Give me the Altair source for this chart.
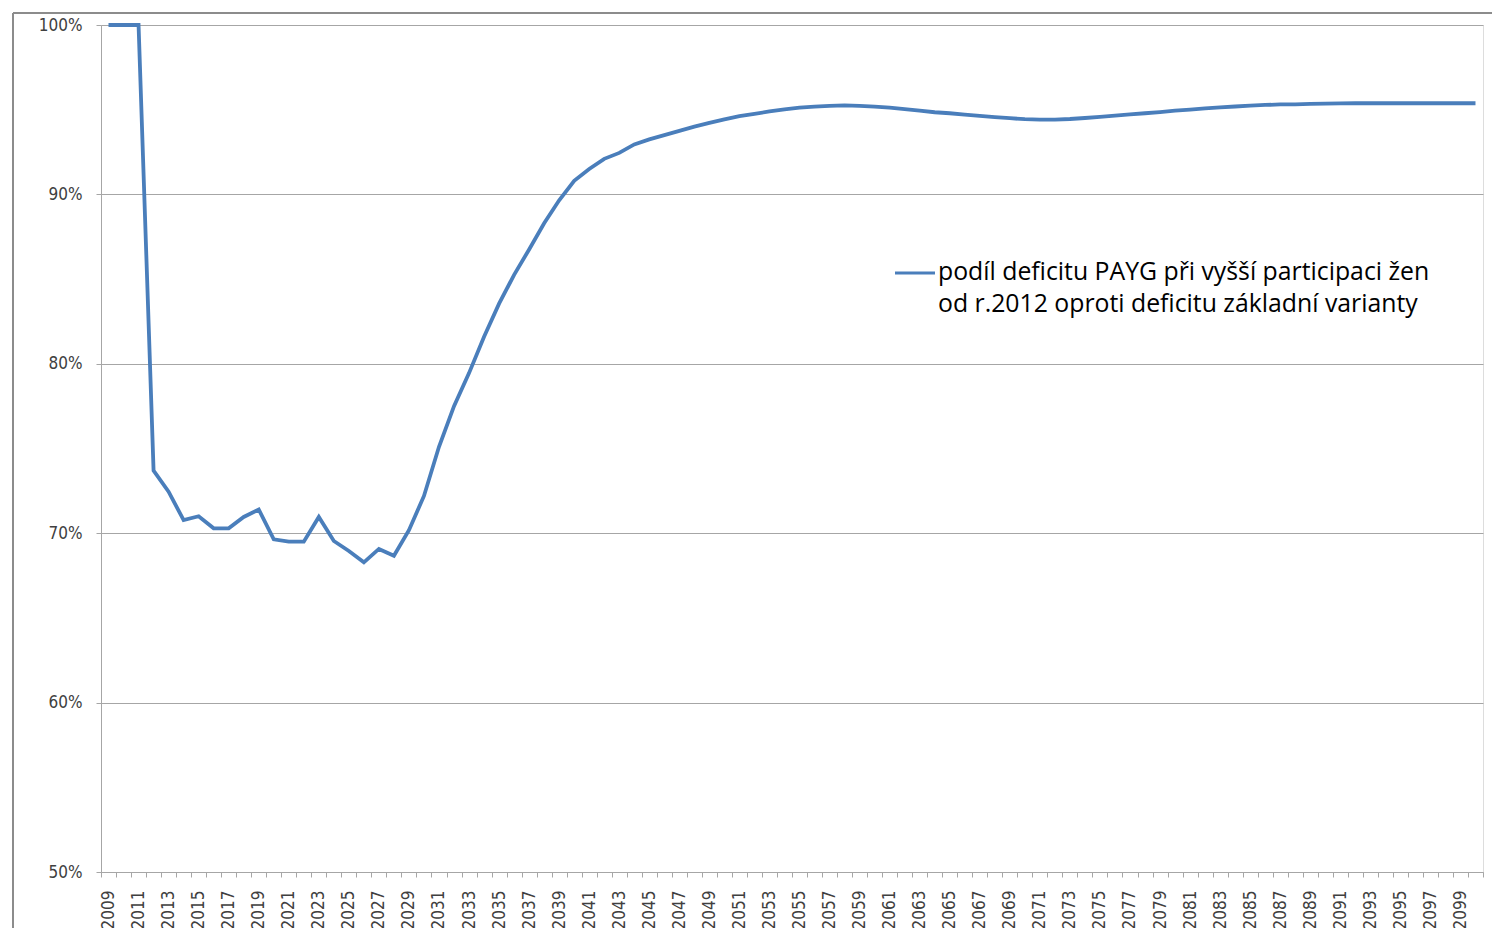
import altair as alt
import pandas as pd

YEARS = list(range(2009, 2101))
SHARE = [
    100, 100, 100, 73.7, 72.45, 70.77, 71.0, 70.29, 70.29, 70.96,
    71.4, 69.64, 69.5, 69.5, 70.96, 69.54, 68.95, 68.28, 69.07, 68.67,
    70.18, 72.2, 75.1, 77.5, 79.45, 81.6, 83.55, 85.25, 86.75, 88.3,
    89.65, 90.8, 91.5, 92.1, 92.45, 92.95, 93.25, 93.5, 93.75, 94.0,
    94.22, 94.43, 94.62, 94.75, 94.9, 95.02, 95.12, 95.18, 95.22, 95.25,
    95.22, 95.18, 95.12, 95.04, 94.94, 94.85, 94.79, 94.71, 94.63, 94.56,
    94.5, 94.44, 94.42, 94.42, 94.45, 94.51, 94.58, 94.65, 94.72, 94.79,
    94.86, 94.94, 95.01, 95.08, 95.14, 95.19, 95.24, 95.28, 95.31, 95.32,
    95.34, 95.36, 95.37, 95.38, 95.38, 95.38, 95.38, 95.38, 95.38, 95.38,
    95.38, 95.38,
]
Y_TICKS = [50, 60, 70, 80, 90, 100]
LEGEND_LINES = [
    "podíl deficitu PAYG při vyšší participaci žen",
    "od r.2012 oproti deficitu základní varianty",
]

LINE_COLOR = "#4a7ebb"
GRID = "#a6a6a6"
AXIS_FONT = "DejaVu Sans Condensed, DejaVu Sans"

df = pd.DataFrame({"year": YEARS, "share": SHARE})

base = alt.Chart(df)

line = base.mark_line(color=LINE_COLOR, strokeWidth=3.8).encode(
    x=alt.X(
        "year:O",
        bandPosition=0.5,
        scale=alt.Scale(type="band", paddingInner=0, paddingOuter=0),
        axis=alt.Axis(
            title=None,
            labelAngle=-90,
            labelExpr="(datum.value - 2009) % 2 == 0 ? datum.label : ''",
            labelOverlap=False,
            tickBand="extent",
            tickSize=5,
            tickColor=GRID,
            domainColor=GRID,
            labelPadding=13,
            labelFont=AXIS_FONT,
            labelFontSize=17,
            labelColor="#404040",
            grid=False,
        ),
    ),
    y=alt.Y(
        "share:Q",
        scale=alt.Scale(domain=[50, 100], nice=False, zero=False),
        axis=alt.Axis(
            title=None,
            values=Y_TICKS,
            labelExpr="datum.value + '%'",
            grid=True,
            gridColor=GRID,
            domainColor=GRID,
            tickColor=GRID,
            tickSize=5,
            labelPadding=14,
            labelFont=AXIS_FONT,
            labelFontSize=17,
            labelColor="#404040",
        ),
    ),
)

leg_df = pd.DataFrame({"label": ["\n".join(LEGEND_LINES)]})
leg_sym = alt.Chart(leg_df).mark_rule(color=LINE_COLOR, strokeWidth=3).encode(
    x=alt.value(794), x2=alt.value(834), y=alt.value(248)
)
leg_txt = alt.Chart(leg_df).mark_text(
    align="left", baseline="middle", lineBreak="\n", lineHeight=32,
    font="Open Sans", fontSize=24.8, color="#000000",
).encode(x=alt.value(837), y=alt.value(248), text="label:N")

frame_df = pd.DataFrame({"a": [0]})
frame_top = alt.Chart(frame_df).mark_rule(color="#8c8c8c", strokeWidth=2).encode(
    x=alt.value(-88), x2=alt.value(1400), y=alt.value(-12)
)
frame_left = alt.Chart(frame_df).mark_rule(color="#8c8c8c", strokeWidth=2).encode(
    x=alt.value(-88), y=alt.value(-12), y2=alt.value(920)
)

chart = alt.layer(line, leg_sym, leg_txt, frame_top, frame_left).properties(
    width=1382,
    height=847,
    autosize=alt.AutoSizeParams(type="none"),
    padding={"left": 93, "top": 17, "right": 9, "bottom": 56},
).configure_view(stroke=None).configure(background="white")

chart.save("out.html", embed_options={"renderer": "svg", "actions": False})
